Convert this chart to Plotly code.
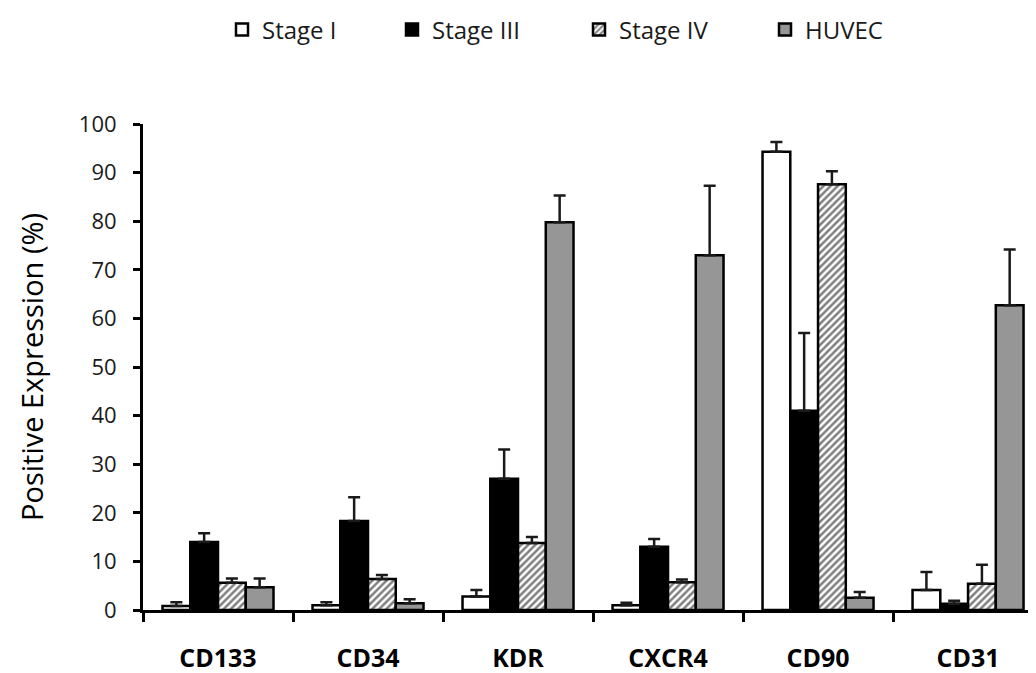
import plotly.graph_objects as go

categories = ["CD133", "CD34", "KDR", "CXCR4", "CD90", "CD31"]
series_names = ["Stage I", "Stage III", "Stage IV", "HUVEC"]
stage1 = [0.8, 1.0, 2.8, 1.0, 94.3, 4.1]
stage1_err = [0.8, 0.6, 1.3, 0.5, 2.0, 3.7]
stage3 = [14.0, 18.3, 27.0, 13.0, 41.0, 1.3]
stage3_err = [1.8, 4.9, 6.0, 1.6, 16.0, 0.6]
stage4 = [5.6, 6.4, 13.8, 5.7, 87.6, 5.4]
stage4_err = [0.9, 0.8, 1.2, 0.6, 2.7, 3.9]
huvec = [4.7, 1.4, 79.8, 73.0, 2.5, 62.7]
huvec_err = [1.8, 0.8, 5.5, 14.3, 1.2, 11.5]

FONT = "'Open Sans', 'Noto Sans', sans-serif"
W, H = 1036, 673
OFF = 8  # page body margin offset

def err(vals):
    return dict(type="data", array=vals, symmetric=False, arrayminus=[0] * len(vals),
                color="#1a1a1a", thickness=2.5, width=6)

outline = dict(color="black", width=2.5)
markers = [
    dict(color="white", line=outline),
    dict(color="black", line=outline),
    dict(color="white", line=outline,
         pattern=dict(shape="/", fgcolor="black", bgcolor="white", size=5, solidity=0.5)),
    dict(color="#969696", line=outline),
]
values = [stage1, stage3, stage4, huvec]
errors = [stage1_err, stage3_err, stage4_err, huvec_err]
legend_ids = ["legend", "legend2", "legend3", "legend4"]
legend_box_centers = [246, 416, 603, 789]

fig = go.Figure()
for name, vals, errs, mk, lid in zip(series_names, values, errors, markers, legend_ids):
    fig.add_trace(go.Bar(name=name, x=categories, y=vals, error_y=err(errs),
                         marker=mk, legend=lid))

legend_common = dict(orientation="h", xref="container", yref="container",
                     xanchor="left", yanchor="middle", y=1 - (30 - OFF) / H,
                     font=dict(size=24, color="#1a1a1a", family=FONT),
                     bgcolor="rgba(0,0,0,0)", borderwidth=0)
layout_legends = {}
for lid, cx in zip(legend_ids, legend_box_centers):
    layout_legends[lid] = dict(legend_common, x=(cx - 24 - OFF) / W)

fig.update_layout(
    width=W, height=H,
    margin=dict(l=143 - OFF, r=OFF, t=124 - OFF, b=63 + OFF, autoexpand=False),
    paper_bgcolor="white", plot_bgcolor="white",
    barmode="group", bargap=0.26, bargroupgap=0,
    font=dict(family=FONT, color="#1a1a1a"),
    showlegend=True,
    **layout_legends,
)
fig.update_xaxes(
    range=[-0.5, 5.453], automargin=False,
    showline=True, linecolor="black", linewidth=3,
    ticks="outside", tickson="boundaries", ticklen=9, tickwidth=3, tickcolor="black",
    tickfont=dict(size=25, color="black", family=FONT, weight="bold"),
    ticklabelstandoff=24,
    showgrid=False, zeroline=False,
)
fig.update_yaxes(
    range=[0, 100], dtick=10, automargin=False,
    showline=True, linecolor="black", linewidth=3,
    ticks="outside", ticklen=7, tickwidth=3, tickcolor="black",
    tickfont=dict(size=22, color="#1a1a1a", family=FONT),
    ticklabelstandoff=12,
    showgrid=False, zeroline=False,
    title=dict(text="Positive Expression (%)",
               font=dict(size=29, color="black", family=FONT), standoff=27),
)

fig.write_html("out.html")
